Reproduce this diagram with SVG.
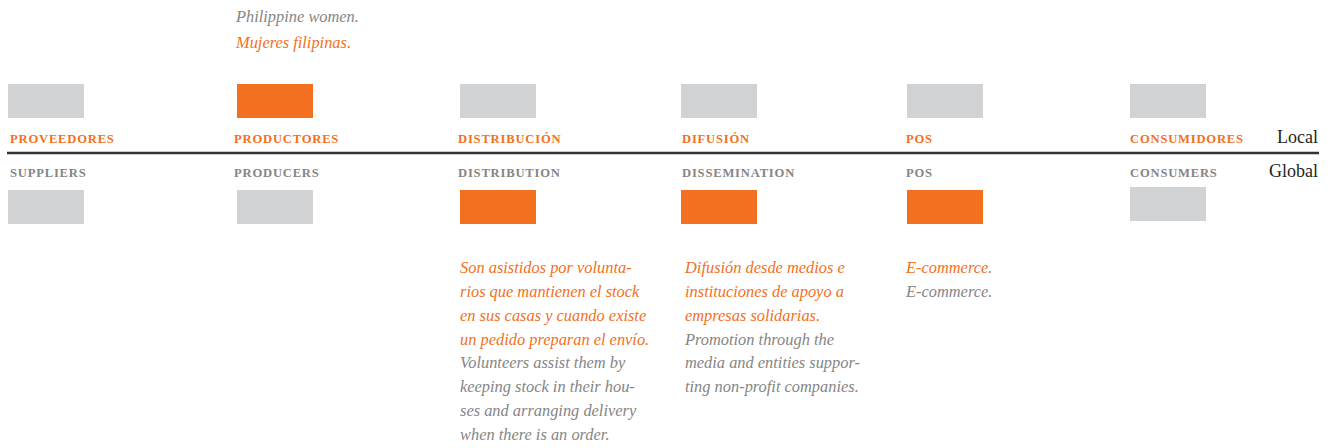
<svg xmlns="http://www.w3.org/2000/svg" width="1332" height="448" viewBox="0 0 1332 448">
<style>
.box-g{fill:#D1D2D4}
.box-o{fill:#F37021}
.lab{font-family:"Liberation Serif",serif;font-weight:bold;font-size:12.6px;letter-spacing:0.8px}
.es{fill:#F37021}
.en{fill:#858585}
.it{font-family:"Liberation Serif",serif;font-style:italic;font-size:16.4px}
.side{font-family:"Liberation Serif",serif;font-size:18px;fill:#231F20}
</style>
<rect width="1332" height="448" fill="#fff"/>
<g id="connectors">
<line x1="7" y1="153" x2="1319" y2="153" stroke="#333" stroke-width="2.5"/>
</g>
<g id="axis-labels">
<text class="side" x="1318" y="143" text-anchor="end">Local</text>
<text class="side" x="1318" y="177" text-anchor="end">Global</text>
</g>
<g id="proveedores">
<rect class="box-g" x="8" y="84" width="76" height="34"/>
<text class="lab es" x="10" y="143">PROVEEDORES</text>
<text class="lab en" x="10" y="177">SUPPLIERS</text>
<rect class="box-g" x="8" y="190" width="76" height="34"/>
</g>
<g id="productores">
<text class="it en" x="236" y="22">Philippine women.</text>
<text class="it es" x="236" y="48">Mujeres filipinas.</text>
<rect class="box-o" x="237" y="84" width="76" height="34"/>
<text class="lab es" x="234" y="143">PRODUCTORES</text>
<text class="lab en" x="234" y="177">PRODUCERS</text>
<rect class="box-g" x="237" y="190" width="76" height="34"/>
</g>
<g id="distribucion">
<rect class="box-g" x="460" y="84" width="76" height="34"/>
<text class="lab es" x="458" y="143">DISTRIBUCIÓN</text>
<text class="lab en" x="458" y="177">DISTRIBUTION</text>
<rect class="box-o" x="460" y="190" width="76" height="34"/>
<text class="it es" x="460" y="273">Son asistidos por volunta-</text>
<text class="it es" x="460" y="297">rios que mantienen el stock</text>
<text class="it es" x="460" y="321">en sus casas y cuando existe</text>
<text class="it es" x="460" y="345">un pedido preparan el envío.</text>
<text class="it en" x="460" y="368">Volunteers assist them by</text>
<text class="it en" x="460" y="392">keeping stock in their hou-</text>
<text class="it en" x="460" y="416">ses and arranging delivery</text>
<text class="it en" x="460" y="440">when there is an order.</text>
</g>
<g id="difusion">
<rect class="box-g" x="681" y="84" width="76" height="34"/>
<text class="lab es" x="682" y="143">DIFUSIÓN</text>
<text class="lab en" x="682" y="177">DISSEMINATION</text>
<rect class="box-o" x="681" y="190" width="76" height="34"/>
<text class="it es" x="685" y="273">Difusión desde medios e</text>
<text class="it es" x="685" y="297">instituciones de apoyo a</text>
<text class="it es" x="685" y="321">empresas solidarias.</text>
<text class="it en" x="685" y="345">Promotion through the</text>
<text class="it en" x="685" y="368">media and entities suppor-</text>
<text class="it en" x="685" y="392">ting non-profit companies.</text>
</g>
<g id="pos">
<rect class="box-g" x="907" y="84" width="76" height="34"/>
<text class="lab es" x="906" y="143">POS</text>
<text class="lab en" x="906" y="177">POS</text>
<rect class="box-o" x="907" y="190" width="76" height="34"/>
<text class="it es" x="906" y="273">E-commerce.</text>
<text class="it en" x="906" y="297">E-commerce.</text>
</g>
<g id="consumidores">
<rect class="box-g" x="1130" y="84" width="76" height="34"/>
<text class="lab es" x="1130" y="143">CONSUMIDORES</text>
<text class="lab en" x="1130" y="177">CONSUMERS</text>
<rect class="box-g" x="1130" y="187" width="76" height="34"/>
</g>
</svg>
